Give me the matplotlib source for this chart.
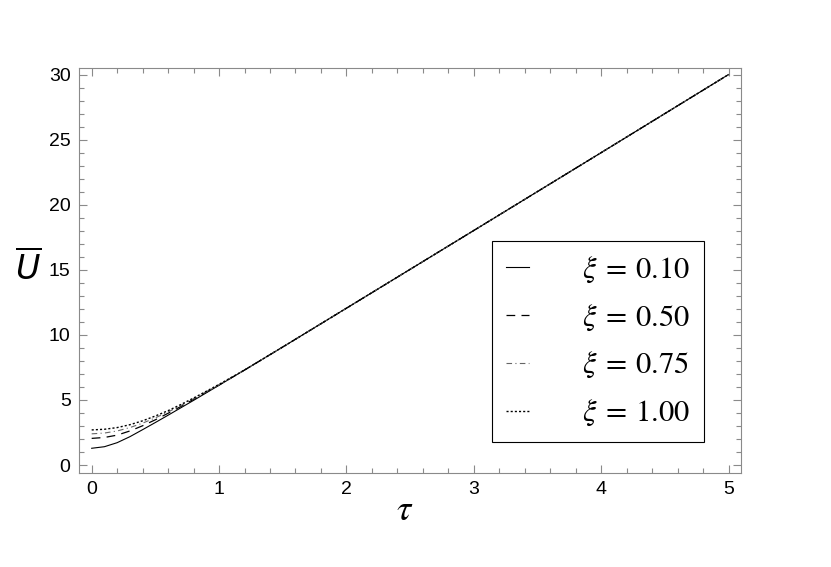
#!/usr/bin/env python3
"""Mean value U-bar versus tau for four values of xi (Mathematica-style frame)."""

import matplotlib
matplotlib.use("Agg")
import matplotlib.pyplot as plt
import matplotlib.ticker as ticker

# ── Data ────────────────────────────────────────────────────────────────────
tau = [0.0, 0.1, 0.2, 0.3, 0.4, 0.5, 0.6, 0.7, 0.8, 0.9, 1.0,
       1.2, 1.5, 2.0, 3.0, 4.0, 5.0]
tail = [7.30, 9.07, 12.05, 18.02, 24.00, 30.00]

u_xi010 = [1.29, 1.41, 1.72, 2.18, 2.72, 3.27, 3.83, 4.40, 4.97, 5.55, 6.13] + tail
u_xi050 = [2.05, 2.12, 2.30, 2.62, 3.02, 3.48, 3.98, 4.50, 5.05, 5.60, 6.15] + tail
u_xi075 = [2.40, 2.46, 2.62, 2.88, 3.22, 3.63, 4.08, 4.57, 5.10, 5.63, 6.17] + tail
u_xi100 = [2.70, 2.75, 2.88, 3.10, 3.40, 3.77, 4.18, 4.65, 5.15, 5.67, 6.20] + tail

labels = [r"$\xi\:=\:0.10$", r"$\xi\:=\:0.50$", r"$\xi\:=\:0.75$", r"$\xi\:=\:1.00$"]

# ── Style ───────────────────────────────────────────────────────────────────
plt.rcParams.update({
    "font.family": ["Liberation Sans", "DejaVu Sans"],
    "mathtext.fontset": "stix",
    "font.size": 14,
})

FRAME = "#8a8a8a"

fig = plt.figure(figsize=(8.31, 5.67), dpi=100)
ax = fig.add_axes([0.095, 0.166, 0.797, 0.714])

ax.plot(tau, u_xi010, color="black", lw=0.8, ls="-", label=labels[0])
ax.plot(tau, u_xi050, color="black", lw=0.9, ls=(0, (7, 5)), label=labels[1])
ax.plot(tau, u_xi075, color="#666666", lw=0.8, ls=(0, (5, 3, 1, 3)), label=labels[2])
ax.plot(tau, u_xi100, color="black", lw=1.0, ls=(0, (1.5, 1.5)), label=labels[3])

ax.set_xlim(-0.1, 5.1)
ax.set_ylim(-0.6, 30.5)

ax.xaxis.set_major_locator(ticker.MultipleLocator(1))
ax.xaxis.set_minor_locator(ticker.MultipleLocator(0.2))
ax.yaxis.set_major_locator(ticker.MultipleLocator(5))
ax.yaxis.set_minor_locator(ticker.MultipleLocator(1))

ax.tick_params(which="both", direction="in", top=True, right=True,
               color=FRAME, width=0.8, labelsize=14, pad=6)
ax.tick_params(which="major", length=6)
ax.tick_params(which="minor", length=3.5)
for sp in ax.spines.values():
    sp.set_color(FRAME)
    sp.set_linewidth(0.8)

# ── Axis labels ─────────────────────────────────────────────────────────────
ax.set_xlabel(r"$\tau$", fontsize=26, va="center")
ax.xaxis.set_label_coords(0.492, -0.092)
ax.set_ylabel(r"$\overline{U}$", fontsize=24, rotation=0,
              ha="center", va="center", math_fontfamily="dejavusans")
ax.yaxis.set_label_coords(-0.077, 0.506)

# ── Legend ──────────────────────────────────────────────────────────────────
leg = ax.legend(loc="upper right", bbox_to_anchor=(0.944, 0.573),
                borderaxespad=0, fontsize=22, fancybox=False,
                edgecolor="black", framealpha=1,
                handlelength=0.75, handletextpad=1.75, labelspacing=0.58,
                borderpad=0.45)
leg.get_frame().set_linewidth(0.8)

fig.savefig("out.png", dpi=100, facecolor="white")
plt.close(fig)
